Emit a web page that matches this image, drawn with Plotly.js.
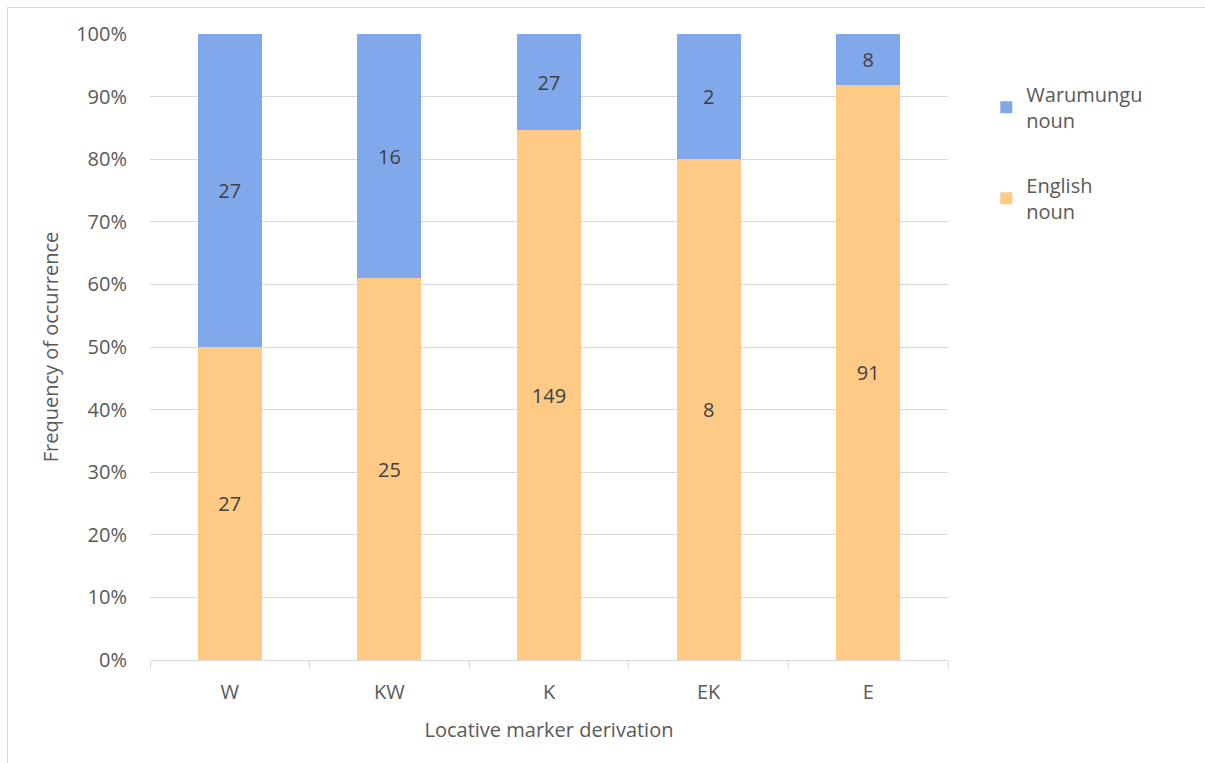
<!DOCTYPE html>
<html>
<head>
<meta charset="utf-8">
<script src="https://cdn.plot.ly/plotly-3.0.1.min.js"></script>
<style>
  html, body { margin: 0; padding: 0; background: #fff; }
  #wrap { position: relative; width: 1205px; height: 763px; overflow: hidden; }
  #chart { width: 1205px; height: 763px; }
  #frame { position: absolute; left: 7px; top: 7px; width: 1210px; height: 770px;
           border: 1px solid #D9D9D9; pointer-events: none; box-sizing: border-box; }
</style>
</head>
<body>
<div id="wrap">
  <div id="chart"></div>
  <div id="frame"></div>
</div>
<script>
// Locative marker derivation categories
const categories = ['W', 'KW', 'K', 'EK', 'E'];
// Counts of occurrences by noun origin
const englishNoun = [27, 25, 149, 8, 91];
const warumunguNoun = [27, 16, 27, 2, 8];

const textColor = '#595959';
const labelColor = '#404040';
const fontFamily = '"Open Sans", "Noto Sans", sans-serif';
const fs = 20;

function barTrace(name, values, color, group, rank) {
  return {
    type: 'bar',
    name: name,
    x: categories,
    y: values,
    text: values.map(String),
    texttemplate: '%{text}',
    textposition: 'inside',
    insidetextanchor: 'middle',
    textangle: 0,
    constraintext: 'none',
    textfont: { family: fontFamily, size: fs, color: labelColor },
    marker: { color: color },
    legendgroup: group,
    legendrank: rank,
    hoverinfo: 'none'
  };
}

const traces = [
  barTrace('English<br>noun', englishNoun, '#FFCA85', 'en', 2),
  barTrace('Warumungu<br>noun', warumunguNoun, '#82A8EC', 'wa', 1)
];

const layout = {
  width: 1205,
  height: 763,
  margin: { l: 150, r: 257, t: 34, b: 103 },
  paper_bgcolor: 'rgba(0,0,0,0)',
  plot_bgcolor: '#ffffff',
  barmode: 'stack',
  barnorm: 'percent',
  bargap: 0.6,
  font: { family: fontFamily, size: fs, color: textColor },
  showlegend: true,
  legend: {
    x: 1.048, y: 0.935, xanchor: 'left', yanchor: 'top',
    traceorder: 'grouped',
    tracegroupgap: 36,
    font: { family: fontFamily, size: fs, color: textColor },
    itemwidth: 30
  },
  xaxis: {
    type: 'category',
    showgrid: false,
    showline: true,
    linecolor: '#D9D9D9',
    linewidth: 1,
    ticks: 'outside',
    tickson: 'boundaries',
    ticklen: 8,
    tickcolor: '#D9D9D9',
    ticklabelstandoff: 14,
    tickfont: { size: fs, color: textColor },
    title: { text: 'Locative marker derivation', font: { size: fs, color: textColor }, standoff: 18 }
  },
  yaxis: {
    range: [0, 100],
    dtick: 10,
    ticksuffix: '%',
    showgrid: true,
    gridcolor: '#D9D9D9',
    gridwidth: 1,
    zeroline: false,
    showline: false,
    ticks: '',
    ticklabelstandoff: 22,
    tickfont: { size: fs, color: textColor },
    title: { text: 'Frequency of occurrence', font: { size: fs, color: textColor }, standoff: 12 }
  }
};

Plotly.newPlot('chart', traces, layout, { displayModeBar: false, staticPlot: true });
</script>
</body>
</html>
